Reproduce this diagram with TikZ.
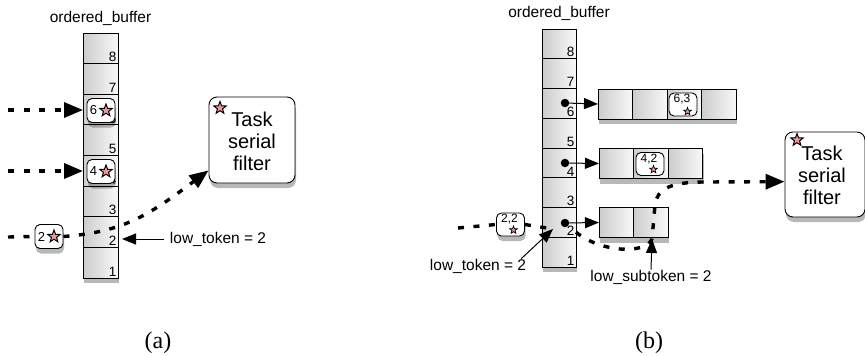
\documentclass[tikz,border=0pt]{standalone}
\usepackage{fontspec}
\setmainfont{Liberation Sans}
\newfontfamily\serifcap{Liberation Serif}
\usetikzlibrary{arrows.meta,shapes.geometric,shadows}
\definecolor{starpink}{RGB}{240,150,150}
\begin{document}
\begin{tikzpicture}[x=1pt,y=-1pt,
  lbl/.style={font=\fontsize{15.5}{18}\selectfont, inner sep=0pt},
  capt/.style={font=\serifcap\fontsize{24}{26}\selectfont, inner sep=0pt},
  num/.style={anchor=south east, inner sep=1.5pt, font=\fontsize{13.5}{15}\selectfont},
  softshadow/.style={drop shadow={shadow xshift=1pt, shadow yshift=-5pt, opacity=.28, fill=black}},
  colback/.style={fill=white, inner sep=0pt, outer sep=0pt, softshadow},
  cellbox/.style={draw, line width=0.9pt, left color=gray!40, right color=gray!5, inner sep=0pt, outer sep=0pt},
  tokbox/.style={draw, fill=white, rounded corners=5pt, line width=0.9pt, minimum width=28pt, minimum height=24pt, inner sep=0pt, softshadow},
  tokboxb/.style={draw, fill=white, rounded corners=5pt, line width=0.9pt, minimum width=28pt, minimum height=23pt, inner sep=0pt},
  tokdigit/.style={inner sep=0pt, font=\fontsize{13}{15}\selectfont},
  tokdigitb/.style={inner sep=0pt, font=\fontsize{12}{14}\selectfont},
  bigstar/.style={star, star points=5, star point ratio=2.4, minimum size=13pt, inner sep=0pt, draw, line width=1pt, fill=starpink},
  smallstar/.style={star, star points=5, star point ratio=2.4, minimum size=8pt, inner sep=0pt, draw, line width=0.7pt, fill=starpink},
  taskbox/.style={draw, fill=white, rounded corners=8pt, line width=0.9pt, inner sep=0pt, softshadow},
  tasktext/.style={align=center, inner sep=0pt, font=\fontsize{20}{22}\selectfont},
  flow/.style={line width=3.4pt, dash pattern=on 6pt off 9.5pt},
  bigtip/.style={-{Triangle[length=19pt,width=15pt]}},
  thinarrow/.style={line width=1pt, -{Triangle[length=14pt,width=11pt]}},
  dot/.style={circle, fill=black, minimum size=8.5pt, inner sep=0pt}
]
\useasboundingbox (0,0) rectangle (865,356);

% ---------------- (a) ----------------
\node[lbl] (atitle) at (100.5,18) {ordered\_buffer};
\node[colback, minimum width=35pt, minimum height=245pt] (acol) at (100.5,155.5) {};
\foreach \i in {1,...,8}
  \node[cellbox, minimum width=35pt, minimum height=30.625pt, label={[num]south east:\i}] (a\i) at (100.5,{278-(\i-0.5)*30.625}) {};

\node[tokbox] (tok6) at (101,110.5) {};
\node[tokdigit] (tok6n) at (93.5,110.5) {6};
\node[bigstar] (tok6s) at (106,110.5) {};

\node[tokbox] (tok4) at (101,171.5) {};
\node[tokdigit] (tok4n) at (93.5,171.5) {4};
\node[bigstar] (tok4s) at (106,171.5) {};

\node[tokbox] (tok2) at (49,236.5) {};
\node[tokdigit] (tok2n) at (41.5,236.5) {2};
\node[bigstar] (tok2s) at (54,236.5) {};

\node[taskbox, minimum width=86pt, minimum height=86pt] (atask) at (252,140) {};
\node[tasktext] (atasktxt) at (252,141) {Task\\serial\\filter};
\node[bigstar] (ataskstar) at (220,108) {};

\coordinate (ain6) at (8,110);
\draw[flow, bigtip] (ain6) -- (ain6 -| a6.west);
\coordinate (ain4) at (8,171);
\draw[flow, bigtip] (ain4) -- (ain4 -| a4.west);
\coordinate (ain2) at (8,237);
\draw[flow] (ain2) -- (tok2.west);
\draw[flow, bigtip] (tok2.east) .. controls (125,232) and (150,214) .. (atask.215);

\node[lbl] (alow) at (218,239) {low\_token = 2};
\draw[thinarrow] ([xshift=-6pt]alow.west) -- ([xshift=4pt]alow.west -| a2.east);

\node[capt] (capa) at (158,343) {(a)};

% ---------------- (b) ----------------
\node[lbl] (btitle) at (559,13) {ordered\_buffer};
\node[colback, minimum width=34pt, minimum height=238pt] (bcol) at (559,148) {};
\foreach \i in {1,...,8}
  \node[cellbox, minimum width=34pt, minimum height=29.75pt, label={[num]south east:\i}] (b\i) at (559,{267-(\i-0.5)*29.75}) {};

% sub-buffers
\node[colback, minimum width=138pt, minimum height=30pt] (r6back) at (667,104) {};
\node[cellbox, minimum width=34.5pt, minimum height=30pt] (r6a) at (615.25,104) {};
\node[cellbox, minimum width=34.5pt, minimum height=30pt] (r6b) at (649.75,104) {};
\node[cellbox, minimum width=34.5pt, minimum height=30pt] (r6c) at (684.25,104) {};
\node[cellbox, minimum width=34.5pt, minimum height=30pt] (r6d) at (718.75,104) {};

\node[colback, minimum width=103.5pt, minimum height=30pt] (r4back) at (650.75,163.5) {};
\node[cellbox, minimum width=34.5pt, minimum height=30pt] (r4a) at (616.25,163.5) {};
\node[cellbox, minimum width=34.5pt, minimum height=30pt] (r4b) at (650.75,163.5) {};
\node[cellbox, minimum width=34.5pt, minimum height=30pt] (r4c) at (685.25,163.5) {};

\node[colback, minimum width=69pt, minimum height=30pt] (r2back) at (633.5,222.5) {};
\node[cellbox, minimum width=34.5pt, minimum height=30pt] (r2a) at (616.25,222.5) {};
\node[cellbox, minimum width=34.5pt, minimum height=30pt] (r2b) at (650.75,222.5) {};

\node[dot] (d6) at (565,103) {};
\node[dot] (d4) at (565,163) {};
\node[dot] (d2) at (565,223) {};
\draw[thinarrow] (d6) -- (r6a.west);
\draw[thinarrow] (d4) -- (r4a.west);
\draw[thinarrow] (d2) -- (r2a.west);

\node[tokboxb] (t63) at (683,104.5) {};
\node[tokdigitb] (t63n) at (682,99.5) {6,3};
\node[smallstar] (t63s) at (687.5,111.5) {};

\node[tokboxb] (t42) at (650,164) {};
\node[tokdigitb] (t42n) at (649,159) {4,2};
\node[smallstar] (t42s) at (653.5,169.5) {};

\node[tokboxb, softshadow] (t22) at (510.5,224.5) {};
\node[tokdigitb] (t22n) at (509.5,219.5) {2,2};
\node[smallstar] (t22s) at (513.5,230) {};

\node[taskbox, minimum width=80pt, minimum height=85pt] (btask) at (825,174.5) {};
\node[tasktext] (btasktxt) at (822,175) {Task\\serial\\filter};
\node[bigstar] (btaskstar) at (797,140) {};

\coordinate (bin) at (458,228);
\coordinate (bend) at (553,229);
\draw[flow] (bin) -- (t22.west);
\draw[flow] (t22.east) -- (bend);

\node[lbl] (blow) at (478,266) {low\_token = 2};
\draw[thinarrow] ([xshift=-5pt]blow.north east) -- (bend);

\node[lbl] (bsub) at (651,277) {low\_subtoken = 2};
\coordinate (bsubtip) at (652,239);
\draw[thinarrow] (bsub.north) -- (bsubtip);

\draw[flow, bigtip] (b2.330) .. controls (600,252) and (645,255) .. (bsubtip)
  -- (655,205) .. controls (657,188) and (672,182) .. (705,182) -- (btask.190);

\node[capt] (capb) at (649,343) {(b)};
\end{tikzpicture}
\end{document}
